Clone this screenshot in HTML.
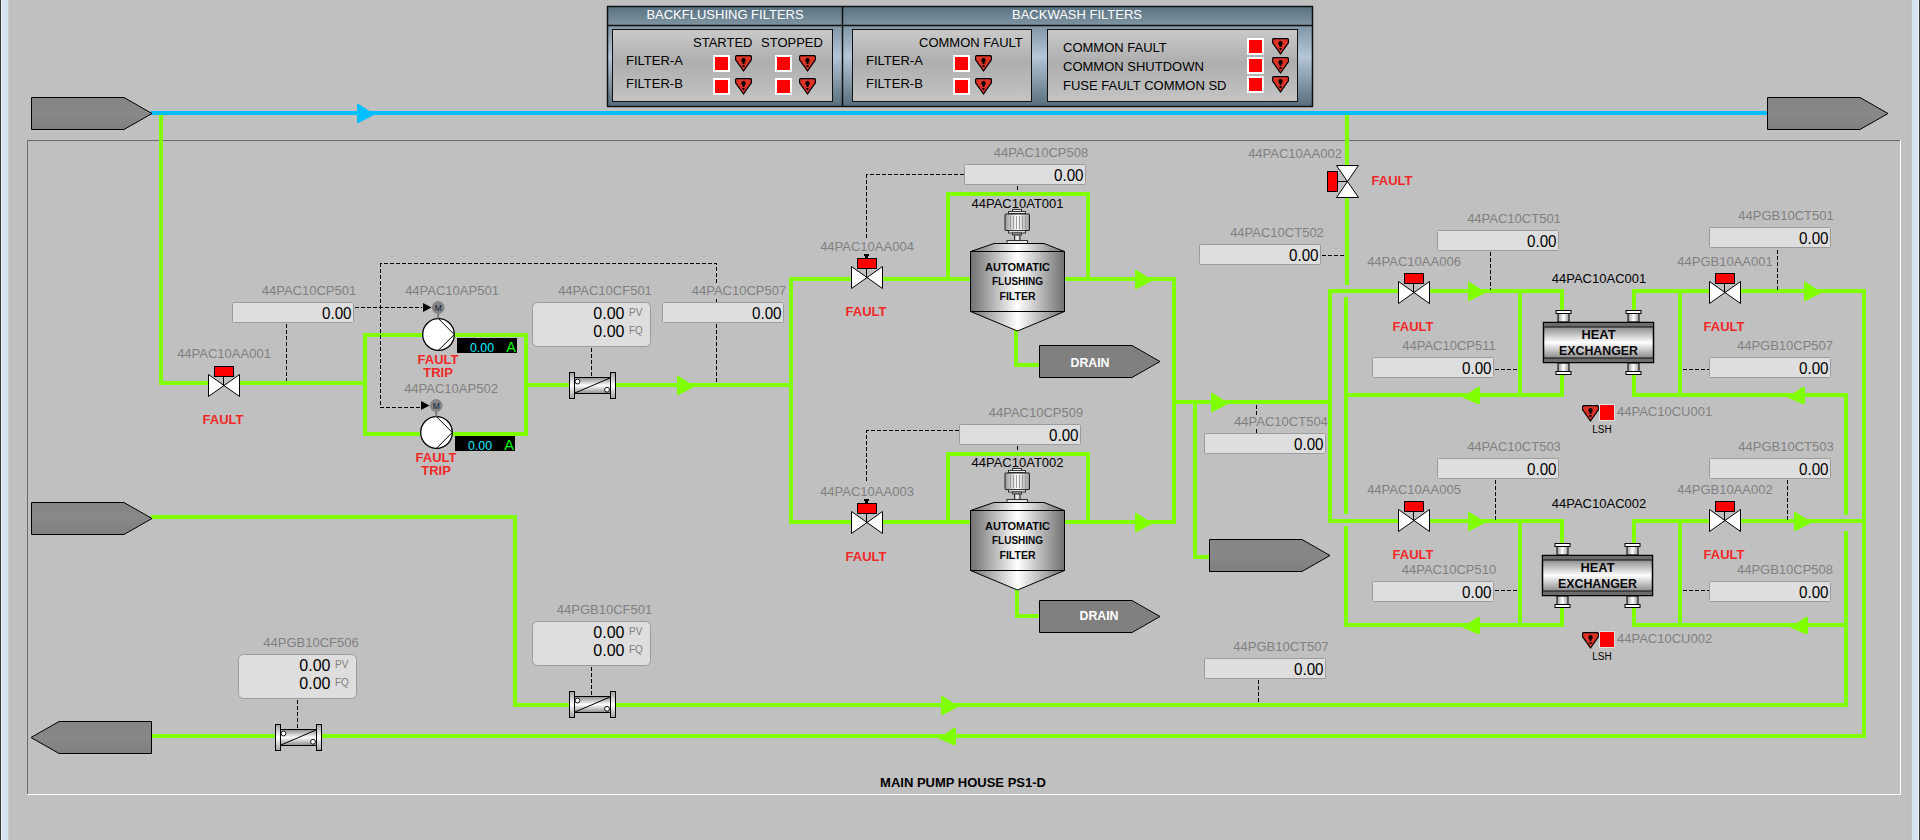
<!DOCTYPE html>
<html><head><meta charset="utf-8"><title>MAIN PUMP HOUSE PS1-D</title>
<style>
html,body{margin:0;padding:0;background:#c0c0c0;overflow:hidden;}
body{width:1920px;height:840px;position:relative;font-family:"Liberation Sans",sans-serif;}
.edgeL{position:absolute;left:0;top:0;width:9px;height:840px;background:linear-gradient(to right,#3c3c3c 0,#3c3c3c 1px,#eef4fb 1px,#eef4fb 2px,#d8e4f2 2px,#d8e4f2 8px,#c8ccd0 8px,#c8ccd0 9px);}
.edgeR{position:absolute;left:1911px;top:0;width:9px;height:840px;background:linear-gradient(to right,#c4c4c8 0,#c4c4c8 1px,#d8e4f2 1px,#d8e4f2 7px,#eef4fb 7px,#eef4fb 8px,#3c3c3c 8px);}
svg{position:absolute;left:0;top:0;}
text{font-family:"Liberation Sans",sans-serif;}
</style></head><body>
<div class="edgeL"></div><div class="edgeR"></div>
<svg width="1920" height="840" viewBox="0 0 1920 840">
<defs>
<linearGradient id="gcyl" x1="0" x2="1" y1="0" y2="0"><stop offset="0" stop-color="#707070"/><stop offset="0.5" stop-color="#ffffff"/><stop offset="1" stop-color="#707070"/></linearGradient>
<linearGradient id="gmet" x1="0" x2="0" y1="0" y2="1"><stop offset="0" stop-color="#8c8c8c"/><stop offset="0.5" stop-color="#ffffff"/><stop offset="1" stop-color="#8c8c8c"/></linearGradient>
<linearGradient id="gflange" x1="0" x2="0" y1="0" y2="1"><stop offset="0" stop-color="#a0a0a0"/><stop offset="0.5" stop-color="#ffffff"/><stop offset="1" stop-color="#a0a0a0"/></linearGradient>
<linearGradient id="ghx" x1="0" x2="0" y1="0" y2="1"><stop offset="0" stop-color="#6a6a6a"/><stop offset="0.5" stop-color="#ffffff"/><stop offset="1" stop-color="#6a6a6a"/></linearGradient>
<linearGradient id="gmotor" x1="0" x2="1" y1="0" y2="0"><stop offset="0" stop-color="#9a9a9a"/><stop offset="0.5" stop-color="#ffffff"/><stop offset="1" stop-color="#9a9a9a"/></linearGradient>
<linearGradient id="gsrc" x1="0" x2="0" y1="0" y2="1"><stop offset="0" stop-color="#858585"/><stop offset="0.5" stop-color="#888888"/><stop offset="1" stop-color="#7f7f7f"/></linearGradient>
<linearGradient id="gpanelH" x1="0" x2="0" y1="0" y2="1"><stop offset="0" stop-color="#587080"/><stop offset="1" stop-color="#7e94a2"/></linearGradient>
<linearGradient id="gpanelB" x1="0" x2="0" y1="0" y2="1"><stop offset="0" stop-color="#5e7684"/><stop offset="0.5" stop-color="#b4c6d8"/><stop offset="1" stop-color="#566c7a"/></linearGradient>
<linearGradient id="ginner" x1="0" x2="0" y1="0" y2="1"><stop offset="0" stop-color="#cacaca"/><stop offset="0.45" stop-color="#aeaeae"/><stop offset="1" stop-color="#c4c4c4"/></linearGradient>
</defs>
<polyline points="27.5,794.5 1900.5,794.5 1900.5,140" fill="none" stroke="#fff" stroke-width="1"/>
<polyline points="27.5,794 27.5,140.5 1900,140.5" fill="none" stroke="#6a6a6a" stroke-width="1"/>
<rect x="607" y="6" width="706" height="101" fill="url(#gpanelB)"/>
<rect x="607" y="6" width="706" height="19" fill="url(#gpanelH)"/>
<rect x="607.5" y="6.5" width="705" height="100" fill="none" stroke="#111" stroke-width="1.5"/>
<line x1="607" y1="25.5" x2="1313" y2="25.5" stroke="#111" stroke-width="1.5"/>
<line x1="842.5" y1="6" x2="842.5" y2="107" stroke="#111" stroke-width="1.5"/>
<text x="725" y="18.5" font-size="13" fill="#fff" text-anchor="middle" font-weight="normal" >BACKFLUSHING FILTERS</text>
<text x="1077" y="18.5" font-size="13" fill="#fff" text-anchor="middle" font-weight="normal" >BACKWASH FILTERS</text>
<rect x="612.5" y="29.5" width="220" height="72" fill="url(#ginner)" stroke="#111" stroke-width="1"/>
<rect x="852.5" y="29.5" width="179" height="72" fill="url(#ginner)" stroke="#111" stroke-width="1"/>
<rect x="1047.5" y="29.5" width="250" height="72" fill="url(#ginner)" stroke="#111" stroke-width="1"/>
<text x="626" y="65" font-size="13" fill="#000" text-anchor="start" font-weight="normal" >FILTER-A</text>
<text x="626" y="88" font-size="13" fill="#000" text-anchor="start" font-weight="normal" >FILTER-B</text>
<text x="693" y="47" font-size="13" fill="#000" text-anchor="start" font-weight="normal" >STARTED</text>
<text x="761" y="47" font-size="13" fill="#000" text-anchor="start" font-weight="normal" >STOPPED</text>
<rect x="713" y="55" width="17" height="17" fill="#fff"/><rect x="715" y="57" width="13" height="13" fill="#f00"/>
<g transform="translate(735,55)"><path d="M1,0 H16 L17,1.2 V5 L8.5,17 L0,5 V1.2 Z" fill="#000"/><path d="M1.8,1.2 H15.2 L15.8,1.8 V4.6 L8.5,15 L1.2,4.6 V1.8 Z" fill="#dc3326"/><ellipse cx="8.5" cy="5.3" rx="2.1" ry="2.3" fill="#000"/><rect x="7.5" y="6" width="2" height="3" fill="#000"/><rect x="7.5" y="10" width="2" height="2" fill="#000"/></g>
<rect x="713" y="78" width="17" height="17" fill="#fff"/><rect x="715" y="80" width="13" height="13" fill="#f00"/>
<g transform="translate(735,78)"><path d="M1,0 H16 L17,1.2 V5 L8.5,17 L0,5 V1.2 Z" fill="#000"/><path d="M1.8,1.2 H15.2 L15.8,1.8 V4.6 L8.5,15 L1.2,4.6 V1.8 Z" fill="#dc3326"/><ellipse cx="8.5" cy="5.3" rx="2.1" ry="2.3" fill="#000"/><rect x="7.5" y="6" width="2" height="3" fill="#000"/><rect x="7.5" y="10" width="2" height="2" fill="#000"/></g>
<rect x="775" y="55" width="17" height="17" fill="#fff"/><rect x="777" y="57" width="13" height="13" fill="#f00"/>
<g transform="translate(799,55)"><path d="M1,0 H16 L17,1.2 V5 L8.5,17 L0,5 V1.2 Z" fill="#000"/><path d="M1.8,1.2 H15.2 L15.8,1.8 V4.6 L8.5,15 L1.2,4.6 V1.8 Z" fill="#dc3326"/><ellipse cx="8.5" cy="5.3" rx="2.1" ry="2.3" fill="#000"/><rect x="7.5" y="6" width="2" height="3" fill="#000"/><rect x="7.5" y="10" width="2" height="2" fill="#000"/></g>
<rect x="775" y="78" width="17" height="17" fill="#fff"/><rect x="777" y="80" width="13" height="13" fill="#f00"/>
<g transform="translate(799,78)"><path d="M1,0 H16 L17,1.2 V5 L8.5,17 L0,5 V1.2 Z" fill="#000"/><path d="M1.8,1.2 H15.2 L15.8,1.8 V4.6 L8.5,15 L1.2,4.6 V1.8 Z" fill="#dc3326"/><ellipse cx="8.5" cy="5.3" rx="2.1" ry="2.3" fill="#000"/><rect x="7.5" y="6" width="2" height="3" fill="#000"/><rect x="7.5" y="10" width="2" height="2" fill="#000"/></g>
<text x="866" y="65" font-size="13" fill="#000" text-anchor="start" font-weight="normal" >FILTER-A</text>
<text x="866" y="88" font-size="13" fill="#000" text-anchor="start" font-weight="normal" >FILTER-B</text>
<text x="919" y="47" font-size="13" fill="#000" text-anchor="start" font-weight="normal" >COMMON FAULT</text>
<rect x="953" y="55" width="17" height="17" fill="#fff"/><rect x="955" y="57" width="13" height="13" fill="#f00"/>
<g transform="translate(975,55)"><path d="M1,0 H16 L17,1.2 V5 L8.5,17 L0,5 V1.2 Z" fill="#000"/><path d="M1.8,1.2 H15.2 L15.8,1.8 V4.6 L8.5,15 L1.2,4.6 V1.8 Z" fill="#dc3326"/><ellipse cx="8.5" cy="5.3" rx="2.1" ry="2.3" fill="#000"/><rect x="7.5" y="6" width="2" height="3" fill="#000"/><rect x="7.5" y="10" width="2" height="2" fill="#000"/></g>
<rect x="953" y="78" width="17" height="17" fill="#fff"/><rect x="955" y="80" width="13" height="13" fill="#f00"/>
<g transform="translate(975,78)"><path d="M1,0 H16 L17,1.2 V5 L8.5,17 L0,5 V1.2 Z" fill="#000"/><path d="M1.8,1.2 H15.2 L15.8,1.8 V4.6 L8.5,15 L1.2,4.6 V1.8 Z" fill="#dc3326"/><ellipse cx="8.5" cy="5.3" rx="2.1" ry="2.3" fill="#000"/><rect x="7.5" y="6" width="2" height="3" fill="#000"/><rect x="7.5" y="10" width="2" height="2" fill="#000"/></g>
<text x="1063" y="52" font-size="13" fill="#000" text-anchor="start" font-weight="normal" >COMMON FAULT</text>
<text x="1063" y="71" font-size="13" fill="#000" text-anchor="start" font-weight="normal" >COMMON SHUTDOWN</text>
<text x="1063" y="90" font-size="13" fill="#000" text-anchor="start" font-weight="normal" >FUSE FAULT COMMON SD</text>
<rect x="1247" y="38" width="17" height="17" fill="#fff"/><rect x="1249" y="40" width="13" height="13" fill="#f00"/>
<g transform="translate(1272,38)"><path d="M1,0 H16 L17,1.2 V5 L8.5,17 L0,5 V1.2 Z" fill="#000"/><path d="M1.8,1.2 H15.2 L15.8,1.8 V4.6 L8.5,15 L1.2,4.6 V1.8 Z" fill="#dc3326"/><ellipse cx="8.5" cy="5.3" rx="2.1" ry="2.3" fill="#000"/><rect x="7.5" y="6" width="2" height="3" fill="#000"/><rect x="7.5" y="10" width="2" height="2" fill="#000"/></g>
<rect x="1247" y="57" width="17" height="17" fill="#fff"/><rect x="1249" y="59" width="13" height="13" fill="#f00"/>
<g transform="translate(1272,57)"><path d="M1,0 H16 L17,1.2 V5 L8.5,17 L0,5 V1.2 Z" fill="#000"/><path d="M1.8,1.2 H15.2 L15.8,1.8 V4.6 L8.5,15 L1.2,4.6 V1.8 Z" fill="#dc3326"/><ellipse cx="8.5" cy="5.3" rx="2.1" ry="2.3" fill="#000"/><rect x="7.5" y="6" width="2" height="3" fill="#000"/><rect x="7.5" y="10" width="2" height="2" fill="#000"/></g>
<rect x="1247" y="76" width="17" height="17" fill="#fff"/><rect x="1249" y="78" width="13" height="13" fill="#f00"/>
<g transform="translate(1272,76)"><path d="M1,0 H16 L17,1.2 V5 L8.5,17 L0,5 V1.2 Z" fill="#000"/><path d="M1.8,1.2 H15.2 L15.8,1.8 V4.6 L8.5,15 L1.2,4.6 V1.8 Z" fill="#dc3326"/><ellipse cx="8.5" cy="5.3" rx="2.1" ry="2.3" fill="#000"/><rect x="7.5" y="6" width="2" height="3" fill="#000"/><rect x="7.5" y="10" width="2" height="2" fill="#000"/></g>
<rect x="151" y="111" width="1616" height="4" fill="#00bfff"/>
<polygon points="357,104 358.5,104 375,114.5 358.5,123 357,123" fill="#00bfff"/>
<rect x="159" y="115" width="4" height="270" fill="#80ff00"/>
<rect x="159" y="381" width="208" height="4" fill="#80ff00"/>
<rect x="363" y="333" width="165" height="4" fill="#80ff00"/>
<rect x="524" y="333" width="4" height="103" fill="#80ff00"/>
<rect x="363" y="432" width="165" height="4" fill="#80ff00"/>
<rect x="363" y="333" width="4" height="103" fill="#80ff00"/>
<rect x="528" y="383" width="265" height="4" fill="#80ff00"/>
<rect x="789" y="277" width="4" height="247" fill="#80ff00"/>
<rect x="789" y="277" width="387" height="4" fill="#80ff00"/>
<rect x="789" y="520" width="387" height="4" fill="#80ff00"/>
<rect x="1172" y="277" width="4" height="247" fill="#80ff00"/>
<rect x="946" y="192" width="4" height="89" fill="#80ff00"/>
<rect x="946" y="192" width="144" height="4" fill="#80ff00"/>
<rect x="1086" y="192" width="4" height="89" fill="#80ff00"/>
<rect x="946" y="452" width="4" height="72" fill="#80ff00"/>
<rect x="946" y="452" width="144" height="4" fill="#80ff00"/>
<rect x="1086" y="452" width="4" height="72" fill="#80ff00"/>
<rect x="1014" y="329" width="4" height="38" fill="#80ff00"/>
<rect x="1014" y="363" width="27" height="4" fill="#80ff00"/>
<rect x="1015" y="588" width="4" height="30" fill="#80ff00"/>
<rect x="1015" y="614" width="26" height="4" fill="#80ff00"/>
<rect x="1174" y="400" width="158" height="4" fill="#80ff00"/>
<rect x="1193" y="400" width="4" height="159" fill="#80ff00"/>
<rect x="1193" y="555" width="18" height="4" fill="#80ff00"/>
<rect x="1328" y="289" width="4" height="234" fill="#80ff00"/>
<rect x="1345" y="115" width="4" height="170" fill="#80ff00"/>
<rect x="1344" y="297" width="4" height="217" fill="#80ff00"/>
<rect x="1344" y="526" width="4" height="101" fill="#80ff00"/>
<rect x="1328" y="289" width="236" height="4" fill="#80ff00"/>
<rect x="1632" y="289" width="234" height="4" fill="#80ff00"/>
<rect x="1328" y="519" width="236" height="4" fill="#80ff00"/>
<rect x="1632" y="519" width="234" height="4" fill="#80ff00"/>
<rect x="1344" y="393" width="178" height="4" fill="#80ff00"/>
<rect x="1344" y="623" width="178" height="4" fill="#80ff00"/>
<rect x="1518" y="289" width="4" height="108" fill="#80ff00"/>
<rect x="1518" y="519" width="4" height="108" fill="#80ff00"/>
<rect x="1560" y="289" width="4" height="23" fill="#80ff00"/>
<rect x="1560" y="374" width="4" height="23" fill="#80ff00"/>
<rect x="1520" y="393" width="44" height="4" fill="#80ff00"/>
<rect x="1632" y="289" width="4" height="23" fill="#80ff00"/>
<rect x="1632" y="374" width="4" height="23" fill="#80ff00"/>
<rect x="1632" y="393" width="216" height="4" fill="#80ff00"/>
<rect x="1678" y="289" width="4" height="108" fill="#80ff00"/>
<rect x="1560" y="519" width="4" height="26" fill="#80ff00"/>
<rect x="1560" y="607" width="4" height="20" fill="#80ff00"/>
<rect x="1520" y="623" width="44" height="4" fill="#80ff00"/>
<rect x="1632" y="519" width="4" height="26" fill="#80ff00"/>
<rect x="1632" y="607" width="4" height="20" fill="#80ff00"/>
<rect x="1632" y="623" width="216" height="4" fill="#80ff00"/>
<rect x="1678" y="519" width="4" height="108" fill="#80ff00"/>
<rect x="1844" y="393" width="4" height="122" fill="#80ff00"/>
<rect x="1844" y="531" width="4" height="176" fill="#80ff00"/>
<rect x="1862" y="289" width="4" height="449" fill="#80ff00"/>
<rect x="513" y="703" width="1335" height="4" fill="#80ff00"/>
<rect x="151" y="734" width="1715" height="4" fill="#80ff00"/>
<rect x="513" y="515" width="4" height="192" fill="#80ff00"/>
<rect x="151" y="515" width="366" height="4" fill="#80ff00"/>
<polygon points="31.5,97.5 124,97.5 152,113.5 124,129.5 31.5,129.5" fill="url(#gsrc)" stroke="#000" stroke-width="1"/>
<polygon points="31.5,502.5 124,502.5 152,518.5 124,534.5 31.5,534.5" fill="url(#gsrc)" stroke="#000" stroke-width="1"/>
<polygon points="31,737.5 59,721.5 151.5,721.5 151.5,753.5 59,753.5" fill="url(#gsrc)" stroke="#000" stroke-width="1"/>
<polygon points="1767.5,97.5 1860,97.5 1888,113.5 1860,129.5 1767.5,129.5" fill="url(#gsrc)" stroke="#000" stroke-width="1"/>
<polygon points="1209.5,539.5 1302,539.5 1330,555.5 1302,571.5 1209.5,571.5" fill="url(#gsrc)" stroke="#000" stroke-width="1"/>
<polygon points="677,376 678.5,376 695,386.5 678.5,395 677,395" fill="#80ff00"/>
<polygon points="1135,270 1136.5,270 1153,280.5 1136.5,289 1135,289" fill="#80ff00"/>
<polygon points="1135,513 1136.5,513 1153,523.5 1136.5,532 1135,532" fill="#80ff00"/>
<polygon points="1211,393 1212.5,393 1229,403.5 1212.5,412 1211,412" fill="#80ff00"/>
<polygon points="1468,282 1469.5,282 1486,292.5 1469.5,301 1468,301" fill="#80ff00"/>
<polygon points="1804,282 1805.5,282 1822,292.5 1805.5,301 1804,301" fill="#80ff00"/>
<polygon points="1480,387 1477.5,387 1462.5,397.5 1477.5,404 1480,404" fill="#80ff00"/>
<polygon points="1805,387 1802.5,387 1787.5,397.5 1802.5,404 1805,404" fill="#80ff00"/>
<polygon points="1468,512 1469.5,512 1486,522.5 1469.5,531 1468,531" fill="#80ff00"/>
<polygon points="1794,512 1795.5,512 1812,522.5 1795.5,531 1794,531" fill="#80ff00"/>
<polygon points="1480,617 1477.5,617 1462.5,627.5 1477.5,634 1480,634" fill="#80ff00"/>
<polygon points="1808,617 1805.5,617 1790.5,627.5 1805.5,634 1808,634" fill="#80ff00"/>
<polygon points="941,696 942.5,696 959,706.5 942.5,715 941,715" fill="#80ff00"/>
<polygon points="956,728 953.5,728 938.5,738.5 953.5,745 956,745" fill="#80ff00"/>
<polyline points="286.5,323.5 286.5,380.5" fill="none" stroke="#000" stroke-width="1" stroke-dasharray="4,2" shape-rendering="crispEdges"/>
<polyline points="354.5,307.5 421.5,307.5" fill="none" stroke="#000" stroke-width="1" stroke-dasharray="4,2" shape-rendering="crispEdges"/>
<polyline points="716.5,282.5 716.5,263.5 380.5,263.5 380.5,407.5 421.5,407.5" fill="none" stroke="#000" stroke-width="1" stroke-dasharray="4,2" shape-rendering="crispEdges"/>
<polyline points="716.5,298.5 716.5,301.5" fill="none" stroke="#000" stroke-width="1" stroke-dasharray="4,2" shape-rendering="crispEdges"/>
<polyline points="716.5,323.5 716.5,382.5" fill="none" stroke="#000" stroke-width="1" stroke-dasharray="4,2" shape-rendering="crispEdges"/>
<polyline points="591.5,347.5 591.5,376.5" fill="none" stroke="#000" stroke-width="1" stroke-dasharray="4,2" shape-rendering="crispEdges"/>
<polyline points="963.5,174.5 866.5,174.5 866.5,238.5" fill="none" stroke="#000" stroke-width="1" stroke-dasharray="4,2" shape-rendering="crispEdges"/>
<polyline points="1017.5,185.5 1017.5,191.5" fill="none" stroke="#000" stroke-width="1" stroke-dasharray="4,2" shape-rendering="crispEdges"/>
<polyline points="958.5,430.5 866.5,430.5 866.5,482.5" fill="none" stroke="#000" stroke-width="1" stroke-dasharray="4,2" shape-rendering="crispEdges"/>
<polyline points="1017.5,445.5 1017.5,451.5" fill="none" stroke="#000" stroke-width="1" stroke-dasharray="4,2" shape-rendering="crispEdges"/>
<polyline points="1321.5,255.5 1344.5,255.5" fill="none" stroke="#000" stroke-width="1" stroke-dasharray="4,2" shape-rendering="crispEdges"/>
<polyline points="1256.5,404.5 1256.5,414.5" fill="none" stroke="#000" stroke-width="1" stroke-dasharray="4,2" shape-rendering="crispEdges"/>
<polyline points="1256.5,428.5 1256.5,432.5" fill="none" stroke="#000" stroke-width="1" stroke-dasharray="4,2" shape-rendering="crispEdges"/>
<polyline points="1490.5,251.5 1490.5,289.5" fill="none" stroke="#000" stroke-width="1" stroke-dasharray="4,2" shape-rendering="crispEdges"/>
<polyline points="1494.5,369.5 1518.5,369.5" fill="none" stroke="#000" stroke-width="1" stroke-dasharray="4,2" shape-rendering="crispEdges"/>
<polyline points="1777.5,249.5 1777.5,289.5" fill="none" stroke="#000" stroke-width="1" stroke-dasharray="4,2" shape-rendering="crispEdges"/>
<polyline points="1682.5,369.5 1708.5,369.5" fill="none" stroke="#000" stroke-width="1" stroke-dasharray="4,2" shape-rendering="crispEdges"/>
<polyline points="1495.5,479.5 1495.5,519.5" fill="none" stroke="#000" stroke-width="1" stroke-dasharray="4,2" shape-rendering="crispEdges"/>
<polyline points="1494.5,590.5 1518.5,590.5" fill="none" stroke="#000" stroke-width="1" stroke-dasharray="4,2" shape-rendering="crispEdges"/>
<polyline points="1787.5,479.5 1787.5,519.5" fill="none" stroke="#000" stroke-width="1" stroke-dasharray="4,2" shape-rendering="crispEdges"/>
<polyline points="1682.5,590.5 1708.5,590.5" fill="none" stroke="#000" stroke-width="1" stroke-dasharray="4,2" shape-rendering="crispEdges"/>
<polyline points="297.5,699.5 297.5,728.5" fill="none" stroke="#000" stroke-width="1" stroke-dasharray="4,2" shape-rendering="crispEdges"/>
<polyline points="591.5,666.5 591.5,695.5" fill="none" stroke="#000" stroke-width="1" stroke-dasharray="4,2" shape-rendering="crispEdges"/>
<polyline points="1258.5,679.5 1258.5,703.5" fill="none" stroke="#000" stroke-width="1" stroke-dasharray="4,2" shape-rendering="crispEdges"/>
<rect x="208" y="374" width="32" height="23" fill="#c0c0c0"/>
<polygon points="208.5,374.5 208.5,396.5 224,385.5 239.5,374.5 239.5,396.5 224,385.5" fill="#fff" stroke="#000" stroke-width="1"/>
<line x1="223.5" y1="385.5" x2="223.5" y2="376" stroke="#000" stroke-width="1"/>
<rect x="214.5" y="366.5" width="19" height="10" fill="#f00" stroke="#000" stroke-width="1"/>
<text x="224" y="358" font-size="13" fill="#808080" text-anchor="middle" font-weight="normal" >44PAC10AA001</text>
<text x="223" y="424" font-size="13" fill="#f02828" text-anchor="middle" font-weight="bold" >FAULT</text>
<text x="309" y="295" font-size="13" fill="#808080" text-anchor="middle" font-weight="normal" >44PAC10CP501</text>
<rect x="232.5" y="302.5" width="121" height="20" rx="1" fill="#dedede" stroke="#9c9c9c" stroke-width="1"/>
<text x="351.5" y="318.5" font-size="16" fill="#000" text-anchor="end" font-weight="normal" textLength="29.5" lengthAdjust="spacingAndGlyphs">0.00</text>
<circle cx="438.5" cy="334.5" r="15.8" fill="#fff" stroke="#000" stroke-width="1.3"/>
<polyline points="438.5,318.7 454.3,334.5 438.5,350.3" fill="none" stroke="#000" stroke-width="1"/>
<line x1="438.2" y1="318.5" x2="438.2" y2="312.5" stroke="#7a7a7a" stroke-width="2"/>
<circle cx="438.2" cy="307.5" r="6.4" fill="#868686"/>
<text x="438.2" y="311.0" font-size="8.5" fill="#102040" text-anchor="middle" font-weight="normal" >M</text>
<polygon points="423.0,303.0 423.0,312.0 431.5,307.5" fill="#000"/>
<text x="452" y="295" font-size="13" fill="#808080" text-anchor="middle" font-weight="normal" >44PAC10AP501</text>
<rect x="457" y="338" width="60" height="15" fill="#000"/>
<text x="470" y="352" font-size="13.5" fill="#00f0ff" text-anchor="start" font-weight="normal" textLength="24" lengthAdjust="spacingAndGlyphs">0.00</text>
<text x="516" y="352" font-size="14.5" fill="#00ff00" text-anchor="end" font-weight="normal" >A</text>
<text x="438" y="364" font-size="13" fill="#f02828" text-anchor="middle" font-weight="bold" >FAULT</text>
<text x="438" y="377" font-size="13" fill="#f02828" text-anchor="middle" font-weight="bold" >TRIP</text>
<circle cx="436.5" cy="432.5" r="15.8" fill="#fff" stroke="#000" stroke-width="1.3"/>
<polyline points="436.5,416.7 452.3,432.5 436.5,448.3" fill="none" stroke="#000" stroke-width="1"/>
<line x1="436.2" y1="416.5" x2="436.2" y2="410.5" stroke="#7a7a7a" stroke-width="2"/>
<circle cx="436.2" cy="405.5" r="6.4" fill="#868686"/>
<text x="436.2" y="409.0" font-size="8.5" fill="#102040" text-anchor="middle" font-weight="normal" >M</text>
<polygon points="421.0,401.0 421.0,410.0 429.5,405.5" fill="#000"/>
<text x="451" y="393" font-size="13" fill="#808080" text-anchor="middle" font-weight="normal" >44PAC10AP502</text>
<rect x="455" y="436" width="60" height="15" fill="#000"/>
<text x="468" y="450" font-size="13.5" fill="#00f0ff" text-anchor="start" font-weight="normal" textLength="24" lengthAdjust="spacingAndGlyphs">0.00</text>
<text x="514" y="450" font-size="14.5" fill="#00ff00" text-anchor="end" font-weight="normal" >A</text>
<text x="436" y="462" font-size="13" fill="#f02828" text-anchor="middle" font-weight="bold" >FAULT</text>
<text x="436" y="475" font-size="13" fill="#f02828" text-anchor="middle" font-weight="bold" >TRIP</text>
<rect x="569.5" y="372.5" width="5" height="26" fill="url(#gflange)" stroke="#000" stroke-width="1"/>
<rect x="610.5" y="372.5" width="5" height="26" fill="url(#gflange)" stroke="#000" stroke-width="1"/>
<rect x="574.5" y="377.5" width="36" height="16" fill="url(#gmet)" stroke="#000" stroke-width="1"/>
<line x1="575" y1="393" x2="610" y2="378" stroke="#000" stroke-width="1"/>
<circle cx="577.5" cy="381.5" r="2.4" fill="#fff" stroke="#000" stroke-width="0.9"/>
<circle cx="607" cy="389.8" r="2.4" fill="#fff" stroke="#000" stroke-width="0.9"/>
<text x="605" y="295" font-size="13" fill="#808080" text-anchor="middle" font-weight="normal" >44PAC10CF501</text>
<rect x="532.5" y="302.5" width="118" height="44" rx="5" fill="#dedede" stroke="#9c9c9c" stroke-width="1"/>
<text x="624.5" y="318.5" font-size="16" fill="#000" text-anchor="end" font-weight="normal" >0.00</text>
<text x="624.5" y="336.5" font-size="16" fill="#000" text-anchor="end" font-weight="normal" >0.00</text>
<text x="629" y="315.5" font-size="10" fill="#808080" text-anchor="start" font-weight="normal" >PV</text>
<text x="629" y="333.5" font-size="10" fill="#808080" text-anchor="start" font-weight="normal" >FQ</text>
<text x="739" y="295" font-size="13" fill="#808080" text-anchor="middle" font-weight="normal" >44PAC10CP507</text>
<rect x="662.5" y="302.5" width="121" height="20" rx="1" fill="#dedede" stroke="#9c9c9c" stroke-width="1"/>
<text x="781.5" y="318.5" font-size="16" fill="#000" text-anchor="end" font-weight="normal" textLength="29.5" lengthAdjust="spacingAndGlyphs">0.00</text>
<rect x="851" y="266" width="32" height="23" fill="#c0c0c0"/>
<polygon points="851.5,266.5 851.5,288.5 867,277.5 882.5,266.5 882.5,288.5 867,277.5" fill="#fff" stroke="#000" stroke-width="1"/>
<line x1="866.5" y1="277.5" x2="866.5" y2="268" stroke="#000" stroke-width="1"/>
<rect x="857.5" y="258.5" width="19" height="10" fill="#f00" stroke="#000" stroke-width="1"/>
<rect x="865" y="256" width="3" height="2" fill="#000"/>
<rect x="864" y="254" width="5" height="2" fill="#000"/>
<text x="867" y="251" font-size="13" fill="#808080" text-anchor="middle" font-weight="normal" >44PAC10AA004</text>
<text x="866" y="316" font-size="13" fill="#f02828" text-anchor="middle" font-weight="bold" >FAULT</text>
<text x="1041" y="157" font-size="13" fill="#808080" text-anchor="middle" font-weight="normal" >44PAC10CP508</text>
<rect x="964.5" y="164.5" width="121" height="20" rx="1" fill="#dedede" stroke="#9c9c9c" stroke-width="1"/>
<text x="1083.5" y="180.5" font-size="16" fill="#000" text-anchor="end" font-weight="normal" textLength="29.5" lengthAdjust="spacingAndGlyphs">0.00</text>
<text x="1017.5" y="207.5" font-size="13" fill="#000" text-anchor="middle" font-weight="normal" >44PAC10AT001</text>
<rect x="1012.5" y="209.5" width="9" height="2" fill="#eee" stroke="#333" stroke-width="1"/>
<rect x="1008.5" y="211.5" width="17" height="2" fill="#eee" stroke="#333" stroke-width="1"/>
<rect x="1005" y="214" width="24.5" height="16.5" rx="0.5" fill="url(#gmotor)" stroke="#222" stroke-width="1"/>
<line x1="1010.5" y1="216" x2="1010.5" y2="229" stroke="#9a9a9a" stroke-width="1"/>
<line x1="1013.5" y1="216" x2="1013.5" y2="229" stroke="#9a9a9a" stroke-width="1"/>
<line x1="1016.5" y1="216" x2="1016.5" y2="229" stroke="#9a9a9a" stroke-width="1"/>
<line x1="1019.5" y1="216" x2="1019.5" y2="229" stroke="#9a9a9a" stroke-width="1"/>
<line x1="1022.5" y1="216" x2="1022.5" y2="229" stroke="#9a9a9a" stroke-width="1"/>
<line x1="1025.5" y1="216" x2="1025.5" y2="229" stroke="#9a9a9a" stroke-width="1"/>
<rect x="1008.5" y="230.5" width="17" height="2.5" fill="#ddd" stroke="#333" stroke-width="1"/>
<rect x="1012.5" y="233" width="9" height="2" fill="#ddd" stroke="#333" stroke-width="1"/>
<rect x="1014.5" y="235" width="5.5" height="6" fill="url(#gmotor)" stroke="#333" stroke-width="1"/>
<rect x="1007" y="240.5" width="20.5" height="3" fill="#e8e8e8" stroke="#333" stroke-width="1"/>
<polygon points="970.5,251.5 994,243.5 1044,243.5 1064.5,251.5" fill="url(#gcyl)" stroke="#000" stroke-width="1"/>
<rect x="970.5" y="251.5" width="94.0" height="60.0" fill="url(#gcyl)" stroke="#000" stroke-width="1"/>
<polygon points="970.5,311.5 1064.5,311.5 1017.5,331" fill="url(#gcyl)" stroke="#000" stroke-width="1"/>
<text x="1017.5" y="271" font-size="11" fill="#08080c" text-anchor="middle" font-weight="bold" textLength="65" lengthAdjust="spacingAndGlyphs">AUTOMATIC</text>
<text x="1017.5" y="285" font-size="11" fill="#08080c" text-anchor="middle" font-weight="bold" textLength="51" lengthAdjust="spacingAndGlyphs">FLUSHING</text>
<text x="1017.5" y="299.5" font-size="11" fill="#08080c" text-anchor="middle" font-weight="bold" textLength="36" lengthAdjust="spacingAndGlyphs">FILTER</text>
<polygon points="1039.5,345.5 1132,345.5 1160,361.5 1132,377.5 1039.5,377.5" fill="#808080" stroke="#000" stroke-width="1"/>
<text x="1090" y="367" font-size="13.5" fill="#fff" text-anchor="middle" font-weight="bold" textLength="39" lengthAdjust="spacingAndGlyphs">DRAIN</text>
<rect x="851" y="511" width="32" height="23" fill="#c0c0c0"/>
<polygon points="851.5,511.5 851.5,533.5 867,522.5 882.5,511.5 882.5,533.5 867,522.5" fill="#fff" stroke="#000" stroke-width="1"/>
<line x1="866.5" y1="522.5" x2="866.5" y2="513" stroke="#000" stroke-width="1"/>
<rect x="857.5" y="503.5" width="19" height="10" fill="#f00" stroke="#000" stroke-width="1"/>
<rect x="865" y="501" width="3" height="2" fill="#000"/>
<rect x="864" y="499" width="5" height="2" fill="#000"/>
<text x="867" y="496" font-size="13" fill="#808080" text-anchor="middle" font-weight="normal" >44PAC10AA003</text>
<text x="866" y="561" font-size="13" fill="#f02828" text-anchor="middle" font-weight="bold" >FAULT</text>
<text x="1036" y="417" font-size="13" fill="#808080" text-anchor="middle" font-weight="normal" >44PAC10CP509</text>
<rect x="959.5" y="424.5" width="121" height="20" rx="1" fill="#dedede" stroke="#9c9c9c" stroke-width="1"/>
<text x="1078.5" y="440.5" font-size="16" fill="#000" text-anchor="end" font-weight="normal" textLength="29.5" lengthAdjust="spacingAndGlyphs">0.00</text>
<text x="1017.5" y="467" font-size="13" fill="#000" text-anchor="middle" font-weight="normal" >44PAC10AT002</text>
<rect x="1012.5" y="468.5" width="9" height="2" fill="#eee" stroke="#333" stroke-width="1"/>
<rect x="1008.5" y="470.5" width="17" height="2" fill="#eee" stroke="#333" stroke-width="1"/>
<rect x="1005" y="473" width="24.5" height="16.5" rx="0.5" fill="url(#gmotor)" stroke="#222" stroke-width="1"/>
<line x1="1010.5" y1="475" x2="1010.5" y2="488" stroke="#9a9a9a" stroke-width="1"/>
<line x1="1013.5" y1="475" x2="1013.5" y2="488" stroke="#9a9a9a" stroke-width="1"/>
<line x1="1016.5" y1="475" x2="1016.5" y2="488" stroke="#9a9a9a" stroke-width="1"/>
<line x1="1019.5" y1="475" x2="1019.5" y2="488" stroke="#9a9a9a" stroke-width="1"/>
<line x1="1022.5" y1="475" x2="1022.5" y2="488" stroke="#9a9a9a" stroke-width="1"/>
<line x1="1025.5" y1="475" x2="1025.5" y2="488" stroke="#9a9a9a" stroke-width="1"/>
<rect x="1008.5" y="489.5" width="17" height="2.5" fill="#ddd" stroke="#333" stroke-width="1"/>
<rect x="1012.5" y="492" width="9" height="2" fill="#ddd" stroke="#333" stroke-width="1"/>
<rect x="1014.5" y="494" width="5.5" height="6" fill="url(#gmotor)" stroke="#333" stroke-width="1"/>
<rect x="1007" y="499.5" width="20.5" height="3" fill="#e8e8e8" stroke="#333" stroke-width="1"/>
<polygon points="970.5,510.5 994,502.5 1044,502.5 1064.5,510.5" fill="url(#gcyl)" stroke="#000" stroke-width="1"/>
<rect x="970.5" y="510.5" width="94.0" height="60.0" fill="url(#gcyl)" stroke="#000" stroke-width="1"/>
<polygon points="970.5,570.5 1064.5,570.5 1017.5,590" fill="url(#gcyl)" stroke="#000" stroke-width="1"/>
<text x="1017.5" y="530" font-size="11" fill="#08080c" text-anchor="middle" font-weight="bold" textLength="65" lengthAdjust="spacingAndGlyphs">AUTOMATIC</text>
<text x="1017.5" y="544" font-size="11" fill="#08080c" text-anchor="middle" font-weight="bold" textLength="51" lengthAdjust="spacingAndGlyphs">FLUSHING</text>
<text x="1017.5" y="558.5" font-size="11" fill="#08080c" text-anchor="middle" font-weight="bold" textLength="36" lengthAdjust="spacingAndGlyphs">FILTER</text>
<polygon points="1039.5,600.5 1132,600.5 1160,616.5 1132,632.5 1039.5,632.5" fill="#808080" stroke="#000" stroke-width="1"/>
<text x="1099" y="620" font-size="13.5" fill="#fff" text-anchor="middle" font-weight="bold" textLength="39" lengthAdjust="spacingAndGlyphs">DRAIN</text>
<rect x="1336" y="165" width="23" height="33" fill="#c0c0c0"/>
<polygon points="1336.5,165.5 1358.5,165.5 1347.5,181.5 1336.5,197.5 1358.5,197.5 1347.5,181.5" fill="#fff" stroke="#000" stroke-width="1"/>
<line x1="1347.5" y1="181.5" x2="1338" y2="181.5" stroke="#000" stroke-width="1"/>
<rect x="1327.5" y="171.5" width="10" height="20" fill="#f00" stroke="#000" stroke-width="1"/>
<text x="1295" y="158" font-size="13" fill="#808080" text-anchor="middle" font-weight="normal" >44PAC10AA002</text>
<text x="1392" y="185" font-size="13" fill="#f02828" text-anchor="middle" font-weight="bold" >FAULT</text>
<text x="1277" y="237" font-size="13" fill="#808080" text-anchor="middle" font-weight="normal" >44PAC10CT502</text>
<rect x="1199.5" y="244.5" width="121" height="20" rx="1" fill="#dedede" stroke="#9c9c9c" stroke-width="1"/>
<text x="1318.5" y="260.5" font-size="16" fill="#000" text-anchor="end" font-weight="normal" textLength="29.5" lengthAdjust="spacingAndGlyphs">0.00</text>
<text x="1281" y="426" font-size="13" fill="#808080" text-anchor="middle" font-weight="normal" >44PAC10CT504</text>
<rect x="1204.5" y="433.5" width="121" height="20" rx="1" fill="#dedede" stroke="#9c9c9c" stroke-width="1"/>
<text x="1323.5" y="449.5" font-size="16" fill="#000" text-anchor="end" font-weight="normal" textLength="29.5" lengthAdjust="spacingAndGlyphs">0.00</text>
<rect x="1398" y="281" width="32" height="23" fill="#c0c0c0"/>
<polygon points="1398.5,281.5 1398.5,303.5 1414,292.5 1429.5,281.5 1429.5,303.5 1414,292.5" fill="#fff" stroke="#000" stroke-width="1"/>
<line x1="1413.5" y1="292.5" x2="1413.5" y2="283" stroke="#000" stroke-width="1"/>
<rect x="1404.5" y="273.5" width="19" height="10" fill="#f00" stroke="#000" stroke-width="1"/>
<text x="1414" y="266" font-size="13" fill="#808080" text-anchor="middle" font-weight="normal" >44PAC10AA006</text>
<text x="1413" y="331" font-size="13" fill="#f02828" text-anchor="middle" font-weight="bold" >FAULT</text>
<text x="1514" y="223" font-size="13" fill="#808080" text-anchor="middle" font-weight="normal" >44PAC10CT501</text>
<rect x="1437.5" y="230.5" width="121" height="20" rx="1" fill="#dedede" stroke="#9c9c9c" stroke-width="1"/>
<text x="1556.5" y="246.5" font-size="16" fill="#000" text-anchor="end" font-weight="normal" textLength="29.5" lengthAdjust="spacingAndGlyphs">0.00</text>
<text x="1449" y="350" font-size="13" fill="#808080" text-anchor="middle" font-weight="normal" >44PAC10CP511</text>
<rect x="1372.5" y="357.5" width="121" height="20" rx="1" fill="#dedede" stroke="#9c9c9c" stroke-width="1"/>
<text x="1491.5" y="373.5" font-size="16" fill="#000" text-anchor="end" font-weight="normal" textLength="29.5" lengthAdjust="spacingAndGlyphs">0.00</text>
<text x="1599" y="283" font-size="13" fill="#000" text-anchor="middle" font-weight="normal" >44PAC10AC001</text>
<rect x="1558.0" y="313.5" width="11" height="8.5" fill="url(#gmotor)" stroke="#000" stroke-width="1"/>
<rect x="1556.0" y="310.5" width="15" height="3" fill="#fff" stroke="#000" stroke-width="1"/>
<rect x="1558.0" y="363" width="11" height="8.5" fill="url(#gmotor)" stroke="#000" stroke-width="1"/>
<rect x="1556.0" y="371.5" width="15" height="3" fill="#fff" stroke="#000" stroke-width="1"/>
<rect x="1628.0" y="313.5" width="11" height="8.5" fill="url(#gmotor)" stroke="#000" stroke-width="1"/>
<rect x="1626.0" y="310.5" width="15" height="3" fill="#fff" stroke="#000" stroke-width="1"/>
<rect x="1628.0" y="363" width="11" height="8.5" fill="url(#gmotor)" stroke="#000" stroke-width="1"/>
<rect x="1626.0" y="371.5" width="15" height="3" fill="#fff" stroke="#000" stroke-width="1"/>
<rect x="1543.5" y="322.5" width="110" height="40" fill="url(#ghx)" stroke="#000" stroke-width="1.5"/>
<rect x="1544" y="323" width="109" height="4" fill="#6c6c6c"/>
<line x1="1544" y1="327" x2="1653" y2="327" stroke="#111" stroke-width="1"/>
<rect x="1544" y="358" width="109" height="4" fill="#6c6c6c"/>
<line x1="1544" y1="358" x2="1653" y2="358" stroke="#111" stroke-width="1"/>
<text x="1598.5" y="339" font-size="13" fill="#08080c" text-anchor="middle" font-weight="bold" textLength="34" lengthAdjust="spacingAndGlyphs">HEAT</text>
<text x="1598.5" y="355" font-size="13" fill="#08080c" text-anchor="middle" font-weight="bold" textLength="79" lengthAdjust="spacingAndGlyphs">EXCHANGER</text>
<rect x="1709" y="281" width="32" height="23" fill="#c0c0c0"/>
<polygon points="1709.5,281.5 1709.5,303.5 1725,292.5 1740.5,281.5 1740.5,303.5 1725,292.5" fill="#fff" stroke="#000" stroke-width="1"/>
<line x1="1724.5" y1="292.5" x2="1724.5" y2="283" stroke="#000" stroke-width="1"/>
<rect x="1715.5" y="273.5" width="19" height="10" fill="#f00" stroke="#000" stroke-width="1"/>
<text x="1725" y="266" font-size="13" fill="#808080" text-anchor="middle" font-weight="normal" >44PGB10AA001</text>
<text x="1724" y="331" font-size="13" fill="#f02828" text-anchor="middle" font-weight="bold" >FAULT</text>
<text x="1786" y="220" font-size="13" fill="#808080" text-anchor="middle" font-weight="normal" >44PGB10CT501</text>
<rect x="1709.5" y="227.5" width="121" height="20" rx="1" fill="#dedede" stroke="#9c9c9c" stroke-width="1"/>
<text x="1828.5" y="243.5" font-size="16" fill="#000" text-anchor="end" font-weight="normal" textLength="29.5" lengthAdjust="spacingAndGlyphs">0.00</text>
<text x="1785" y="350" font-size="13" fill="#808080" text-anchor="middle" font-weight="normal" >44PGB10CP507</text>
<rect x="1709.5" y="357.5" width="121" height="20" rx="1" fill="#dedede" stroke="#9c9c9c" stroke-width="1"/>
<text x="1828.5" y="373.5" font-size="16" fill="#000" text-anchor="end" font-weight="normal" textLength="29.5" lengthAdjust="spacingAndGlyphs">0.00</text>
<g transform="translate(1582,405)"><path d="M1,0 H16 L17,1.2 V5 L8.5,17 L0,5 V1.2 Z" fill="#000"/><path d="M1.8,1.2 H15.2 L15.8,1.8 V4.6 L8.5,15 L1.2,4.6 V1.8 Z" fill="#dc3326"/><ellipse cx="8.5" cy="5.3" rx="2.1" ry="2.3" fill="#000"/><rect x="7.5" y="6" width="2" height="3" fill="#000"/><rect x="7.5" y="10" width="2" height="2" fill="#000"/></g>
<rect x="1599.5" y="404.5" width="15" height="16" fill="#f00" stroke="#e0e0e0" stroke-width="1"/>
<text x="1617" y="416" font-size="13" fill="#808080" text-anchor="start" font-weight="normal" >44PAC10CU001</text>
<text x="1602" y="433" font-size="10" fill="#000" text-anchor="middle" font-weight="normal" >LSH</text>
<rect x="1398" y="509" width="32" height="23" fill="#c0c0c0"/>
<polygon points="1398.5,509.5 1398.5,531.5 1414,520.5 1429.5,509.5 1429.5,531.5 1414,520.5" fill="#fff" stroke="#000" stroke-width="1"/>
<line x1="1413.5" y1="520.5" x2="1413.5" y2="511" stroke="#000" stroke-width="1"/>
<rect x="1404.5" y="501.5" width="19" height="10" fill="#f00" stroke="#000" stroke-width="1"/>
<text x="1414" y="494" font-size="13" fill="#808080" text-anchor="middle" font-weight="normal" >44PAC10AA005</text>
<text x="1413" y="559" font-size="13" fill="#f02828" text-anchor="middle" font-weight="bold" >FAULT</text>
<text x="1514" y="450.5" font-size="13" fill="#808080" text-anchor="middle" font-weight="normal" >44PAC10CT503</text>
<rect x="1437.5" y="458.5" width="121" height="20" rx="1" fill="#dedede" stroke="#9c9c9c" stroke-width="1"/>
<text x="1556.5" y="474.5" font-size="16" fill="#000" text-anchor="end" font-weight="normal" textLength="29.5" lengthAdjust="spacingAndGlyphs">0.00</text>
<text x="1449" y="574" font-size="13" fill="#808080" text-anchor="middle" font-weight="normal" >44PAC10CP510</text>
<rect x="1372.5" y="581.5" width="121" height="20" rx="1" fill="#dedede" stroke="#9c9c9c" stroke-width="1"/>
<text x="1491.5" y="597.5" font-size="16" fill="#000" text-anchor="end" font-weight="normal" textLength="29.5" lengthAdjust="spacingAndGlyphs">0.00</text>
<text x="1599" y="508" font-size="13" fill="#000" text-anchor="middle" font-weight="normal" >44PAC10AC002</text>
<rect x="1557.0" y="546.5" width="11" height="8.5" fill="url(#gmotor)" stroke="#000" stroke-width="1"/>
<rect x="1555.0" y="543.5" width="15" height="3" fill="#fff" stroke="#000" stroke-width="1"/>
<rect x="1557.0" y="596" width="11" height="8.5" fill="url(#gmotor)" stroke="#000" stroke-width="1"/>
<rect x="1555.0" y="604.5" width="15" height="3" fill="#fff" stroke="#000" stroke-width="1"/>
<rect x="1627.0" y="546.5" width="11" height="8.5" fill="url(#gmotor)" stroke="#000" stroke-width="1"/>
<rect x="1625.0" y="543.5" width="15" height="3" fill="#fff" stroke="#000" stroke-width="1"/>
<rect x="1627.0" y="596" width="11" height="8.5" fill="url(#gmotor)" stroke="#000" stroke-width="1"/>
<rect x="1625.0" y="604.5" width="15" height="3" fill="#fff" stroke="#000" stroke-width="1"/>
<rect x="1542.5" y="555.5" width="110" height="40" fill="url(#ghx)" stroke="#000" stroke-width="1.5"/>
<rect x="1543" y="556" width="109" height="4" fill="#6c6c6c"/>
<line x1="1543" y1="560" x2="1652" y2="560" stroke="#111" stroke-width="1"/>
<rect x="1543" y="591" width="109" height="4" fill="#6c6c6c"/>
<line x1="1543" y1="591" x2="1652" y2="591" stroke="#111" stroke-width="1"/>
<text x="1597.5" y="572" font-size="13" fill="#08080c" text-anchor="middle" font-weight="bold" textLength="34" lengthAdjust="spacingAndGlyphs">HEAT</text>
<text x="1597.5" y="588" font-size="13" fill="#08080c" text-anchor="middle" font-weight="bold" textLength="79" lengthAdjust="spacingAndGlyphs">EXCHANGER</text>
<rect x="1709" y="509" width="32" height="23" fill="#c0c0c0"/>
<polygon points="1709.5,509.5 1709.5,531.5 1725,520.5 1740.5,509.5 1740.5,531.5 1725,520.5" fill="#fff" stroke="#000" stroke-width="1"/>
<line x1="1724.5" y1="520.5" x2="1724.5" y2="511" stroke="#000" stroke-width="1"/>
<rect x="1715.5" y="501.5" width="19" height="10" fill="#f00" stroke="#000" stroke-width="1"/>
<text x="1725" y="494" font-size="13" fill="#808080" text-anchor="middle" font-weight="normal" >44PGB10AA002</text>
<text x="1724" y="559" font-size="13" fill="#f02828" text-anchor="middle" font-weight="bold" >FAULT</text>
<text x="1786" y="450.5" font-size="13" fill="#808080" text-anchor="middle" font-weight="normal" >44PGB10CT503</text>
<rect x="1709.5" y="458.5" width="121" height="20" rx="1" fill="#dedede" stroke="#9c9c9c" stroke-width="1"/>
<text x="1828.5" y="474.5" font-size="16" fill="#000" text-anchor="end" font-weight="normal" textLength="29.5" lengthAdjust="spacingAndGlyphs">0.00</text>
<text x="1785" y="574" font-size="13" fill="#808080" text-anchor="middle" font-weight="normal" >44PGB10CP508</text>
<rect x="1709.5" y="581.5" width="121" height="20" rx="1" fill="#dedede" stroke="#9c9c9c" stroke-width="1"/>
<text x="1828.5" y="597.5" font-size="16" fill="#000" text-anchor="end" font-weight="normal" textLength="29.5" lengthAdjust="spacingAndGlyphs">0.00</text>
<g transform="translate(1582,632)"><path d="M1,0 H16 L17,1.2 V5 L8.5,17 L0,5 V1.2 Z" fill="#000"/><path d="M1.8,1.2 H15.2 L15.8,1.8 V4.6 L8.5,15 L1.2,4.6 V1.8 Z" fill="#dc3326"/><ellipse cx="8.5" cy="5.3" rx="2.1" ry="2.3" fill="#000"/><rect x="7.5" y="6" width="2" height="3" fill="#000"/><rect x="7.5" y="10" width="2" height="2" fill="#000"/></g>
<rect x="1599.5" y="631.5" width="15" height="16" fill="#f00" stroke="#e0e0e0" stroke-width="1"/>
<text x="1617" y="643" font-size="13" fill="#808080" text-anchor="start" font-weight="normal" >44PAC10CU002</text>
<text x="1602" y="660" font-size="10" fill="#000" text-anchor="middle" font-weight="normal" >LSH</text>
<rect x="569.5" y="691.5" width="5" height="26" fill="url(#gflange)" stroke="#000" stroke-width="1"/>
<rect x="610.5" y="691.5" width="5" height="26" fill="url(#gflange)" stroke="#000" stroke-width="1"/>
<rect x="574.5" y="696.5" width="36" height="16" fill="url(#gmet)" stroke="#000" stroke-width="1"/>
<line x1="575" y1="712" x2="610" y2="697" stroke="#000" stroke-width="1"/>
<circle cx="577.5" cy="700.5" r="2.4" fill="#fff" stroke="#000" stroke-width="0.9"/>
<circle cx="607" cy="708.8" r="2.4" fill="#fff" stroke="#000" stroke-width="0.9"/>
<text x="604.5" y="613.5" font-size="13" fill="#808080" text-anchor="middle" font-weight="normal" >44PGB10CF501</text>
<rect x="532.5" y="621.5" width="118" height="44" rx="5" fill="#dedede" stroke="#9c9c9c" stroke-width="1"/>
<text x="624.5" y="637.5" font-size="16" fill="#000" text-anchor="end" font-weight="normal" >0.00</text>
<text x="624.5" y="655.5" font-size="16" fill="#000" text-anchor="end" font-weight="normal" >0.00</text>
<text x="629" y="634.5" font-size="10" fill="#808080" text-anchor="start" font-weight="normal" >PV</text>
<text x="629" y="652.5" font-size="10" fill="#808080" text-anchor="start" font-weight="normal" >FQ</text>
<rect x="275.5" y="724.5" width="5" height="26" fill="url(#gflange)" stroke="#000" stroke-width="1"/>
<rect x="316.5" y="724.5" width="5" height="26" fill="url(#gflange)" stroke="#000" stroke-width="1"/>
<rect x="280.5" y="729.5" width="36" height="16" fill="url(#gmet)" stroke="#000" stroke-width="1"/>
<line x1="281" y1="745" x2="316" y2="730" stroke="#000" stroke-width="1"/>
<circle cx="283.5" cy="733.5" r="2.4" fill="#fff" stroke="#000" stroke-width="0.9"/>
<circle cx="313" cy="741.8" r="2.4" fill="#fff" stroke="#000" stroke-width="0.9"/>
<text x="311" y="647" font-size="13" fill="#808080" text-anchor="middle" font-weight="normal" >44PGB10CF506</text>
<rect x="238.5" y="654.5" width="118" height="44" rx="5" fill="#dedede" stroke="#9c9c9c" stroke-width="1"/>
<text x="330.5" y="670.5" font-size="16" fill="#000" text-anchor="end" font-weight="normal" >0.00</text>
<text x="330.5" y="688.5" font-size="16" fill="#000" text-anchor="end" font-weight="normal" >0.00</text>
<text x="335" y="667.5" font-size="10" fill="#808080" text-anchor="start" font-weight="normal" >PV</text>
<text x="335" y="685.5" font-size="10" fill="#808080" text-anchor="start" font-weight="normal" >FQ</text>
<text x="1281" y="650.5" font-size="13" fill="#808080" text-anchor="middle" font-weight="normal" >44PGB10CT507</text>
<rect x="1204.5" y="658.5" width="121" height="20" rx="1" fill="#dedede" stroke="#9c9c9c" stroke-width="1"/>
<text x="1323.5" y="674.5" font-size="16" fill="#000" text-anchor="end" font-weight="normal" textLength="29.5" lengthAdjust="spacingAndGlyphs">0.00</text>
<text x="963" y="787" font-size="13" fill="#000" text-anchor="middle" font-weight="bold" >MAIN PUMP HOUSE PS1-D</text>
</svg>
</body></html>
